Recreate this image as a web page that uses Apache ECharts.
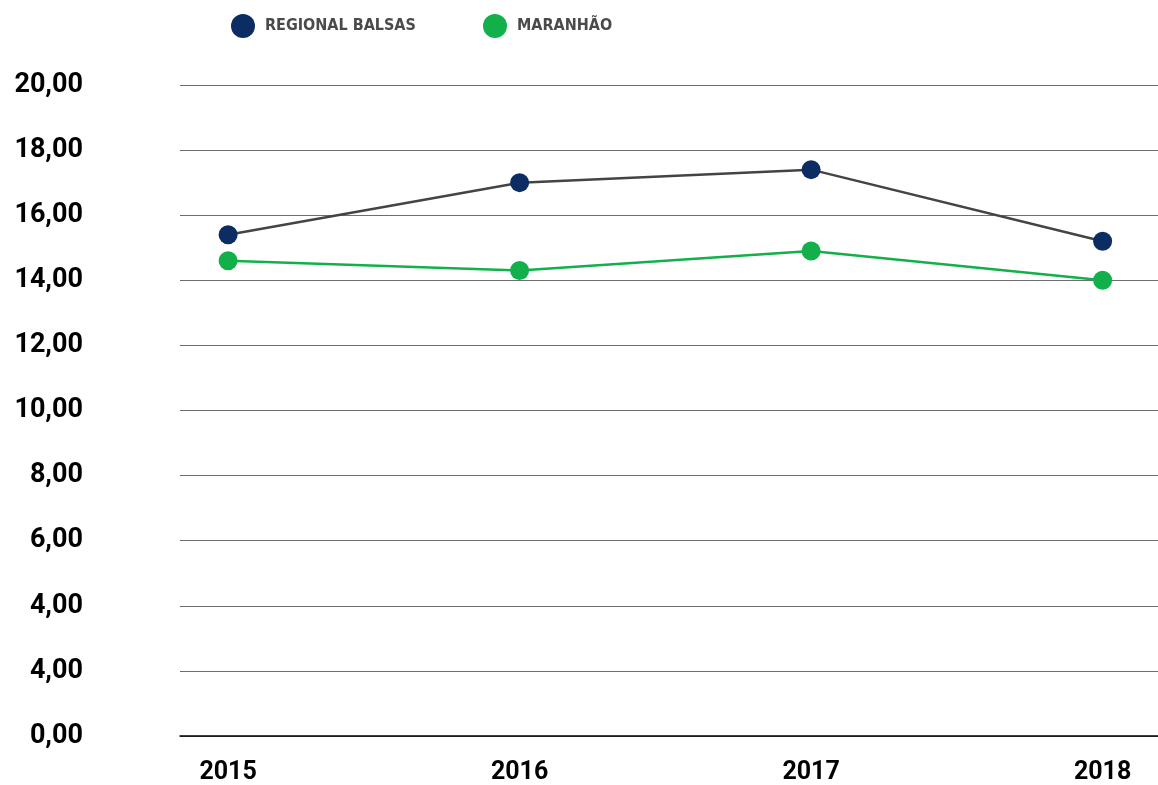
<!DOCTYPE html>
<html>
<head>
<meta charset="utf-8">
<script src="https://cdn.jsdelivr.net/npm/echarts@6/dist/echarts.min.js"></script>
<style>
  html, body { margin: 0; padding: 0; background: #fff; }
  #chart { width: 1158px; height: 785px; }
</style>
</head>
<body>
<div id="chart"></div>
<script>
const years = [2015, 2016, 2017, 2018]
const regionalBalsas = [15.4, 17.0, 17.4, 15.2]
const maranhao = [14.6, 14.3, 14.9, 14.0]
// labels as printed in the original (note the repeated 4,00)
const yTickLabels = ['0,00', '4,00', '4,00', '6,00', '8,00', '10,00', '12,00', '14,00', '16,00', '18,00', '20,00']

const NAVY = '#0b2d63'
const GREEN = '#12b04a'
const LABEL_FONT = 'Roboto, "Noto Sans", sans-serif'
const LEGEND_FONT = '"DejaVu Sans Condensed", "Liberation Sans Narrow", sans-serif'

const chart = echarts.init(document.getElementById('chart'))

const legendBase = {
  top: 9,
  icon: 'circle',
  itemWidth: 24,
  itemHeight: 24,
  textStyle: {
    color: '#4a4a4a',
    fontSize: 16,
    fontWeight: 'bold',
    fontFamily: LEGEND_FONT,
    padding: [0, 0, 0, 5],
  },
}

chart.setOption({
  animation: false,
  backgroundColor: '#fff',
  legend: [
    { ...legendBase, left: 226, data: ['REGIONAL BALSAS'] },
    { ...legendBase, left: 478, data: ['MARANHÃO'] },
  ],
  grid: { left: 180, right: 0, top: 85, bottom: 49 },
  xAxis: {
    type: 'value',
    min: 2014.835,
    max: 2018.19,
    axisLine: { lineStyle: { color: '#000', width: 1.5 } },
    axisTick: { show: false },
    splitLine: { show: false },
    axisLabel: {
      customValues: years,
      margin: 24,
      color: '#000',
      fontSize: 25,
      fontWeight: 'bold',
      fontFamily: LABEL_FONT,
      formatter: (v) => String(v),
    },
  },
  yAxis: {
    type: 'value',
    min: 0,
    max: 20,
    interval: 2,
    axisLine: { show: false },
    axisTick: { show: false },
    splitLine: { lineStyle: { color: '#6e6e6e', width: 1 } },
    axisLabel: {
      margin: 97,
      color: '#000',
      fontSize: 27,
      fontWeight: 'bold',
      fontFamily: LABEL_FONT,
      formatter: (v) => yTickLabels[Math.round(v / 2)],
    },
  },
  series: [
    {
      name: 'REGIONAL BALSAS',
      type: 'line',
      data: years.map((y, i) => [y, regionalBalsas[i]]),
      symbol: 'circle',
      symbolSize: 19,
      lineStyle: { color: '#444', width: 2.5 },
      itemStyle: { color: NAVY, borderWidth: 0 },
      z: 3,
    },
    {
      name: 'MARANHÃO',
      type: 'line',
      data: years.map((y, i) => [y, maranhao[i]]),
      symbol: 'circle',
      symbolSize: 19,
      lineStyle: { color: GREEN, width: 2.5 },
      itemStyle: { color: GREEN, borderWidth: 0 },
      z: 2,
    },
  ],
})
</script>
</body>
</html>
